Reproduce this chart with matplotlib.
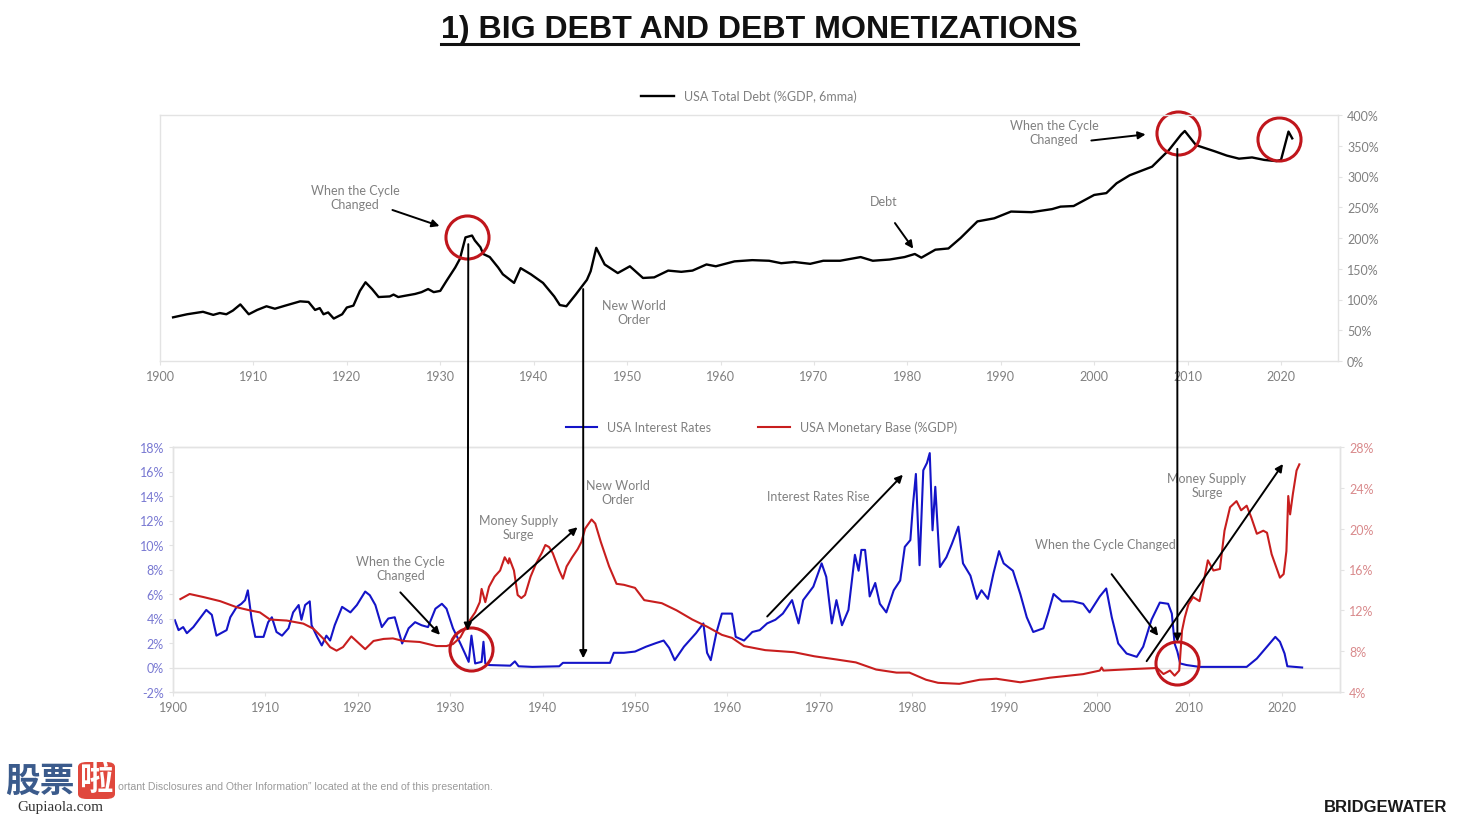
import matplotlib.pyplot as plt
from matplotlib.patches import ConnectionPatch, FancyBboxPatch
from matplotlib.lines import Line2D

plt.rcParams['font.family'] = ['Lato', 'DejaVu Sans']

# USA total debt (%GDP, 6mma)
debt_years = [1901.4, 1902.9, 1904.6, 1905.7, 1906.4, 1907.1, 1907.8, 1908.6, 1909.5, 1910.4,
              1911.4, 1912.3, 1913.4, 1915.0, 1915.9, 1916.6, 1917.1, 1917.5, 1918.0, 1918.6,
              1919.5, 1920.0, 1920.7, 1921.4, 1922.0, 1922.7, 1923.4, 1924.6, 1925.0, 1925.5,
              1926.2, 1927.3, 1928.0, 1928.7, 1929.3, 1930.0, 1930.7, 1931.6, 1932.1, 1932.7,
              1933.4, 1933.7, 1934.3, 1934.6, 1935.3, 1936.2, 1936.7, 1937.9, 1938.6, 1939.7,
              1941.0, 1942.2, 1942.8, 1943.5, 1944.5, 1945.7, 1946.1, 1946.7, 1947.6, 1949.0,
              1950.3, 1951.7, 1952.9, 1954.4, 1955.8, 1957.0, 1958.5, 1959.5, 1961.5, 1963.4,
              1965.2, 1966.5, 1967.9, 1969.6, 1971.0, 1972.8, 1975.0, 1976.3, 1978.1, 1979.7,
              1980.8, 1981.5, 1983.0, 1984.4, 1985.7, 1987.5, 1989.3, 1991.1, 1993.3, 1995.5,
              1996.4, 1997.8, 2000.0, 2001.3, 2002.4, 2003.8, 2006.2, 2008.0, 2009.3, 2009.7,
              2010.9, 2012.9, 2014.2, 2015.5, 2016.9, 2018.2, 2019.5, 2020.0, 2020.8, 2021.2]
debt_vals = [71, 76, 80, 75, 78, 76, 82, 92, 76, 83,
             89, 85, 90, 97, 96, 83, 86, 76, 79, 69,
             76, 87, 90, 114, 128, 117, 104, 105, 108, 104,
             106, 109, 112, 117, 112, 114, 131, 152, 166, 201,
             204, 196, 185, 174, 169, 152, 141, 127, 151, 141,
             127, 105, 91, 89, 108, 132, 146, 184, 157, 143,
             154, 135, 136, 147, 145, 147, 157, 154, 162, 164,
             163, 159, 161, 158, 163, 163, 169, 163, 165, 169,
             174, 168, 181, 183, 200, 227, 232, 243, 242, 247,
             251, 252, 270, 273, 289, 302, 316, 343, 368, 374,
             351, 341, 334, 329, 331, 327, 325, 327, 373, 362]

# USA interest rates (%), left axis
rate_years = [1900.2, 1900.6, 1901.1, 1901.5, 1902.2, 1902.9, 1903.6, 1904.2, 1904.7, 1905.8,
              1906.2, 1906.9, 1907.4, 1907.8, 1908.1, 1908.5, 1908.9, 1909.8, 1910.3, 1910.7,
              1911.2, 1911.8, 1912.5, 1913.0, 1913.6, 1913.9, 1914.3, 1914.8, 1915.0, 1915.6,
              1916.1, 1916.6, 1917.0, 1917.5, 1918.3, 1919.2, 1919.9, 1920.8, 1921.3, 1921.9,
              1922.6, 1923.3, 1924.0, 1924.8, 1925.5, 1926.2, 1926.9, 1927.6, 1928.4, 1929.1,
              1929.6, 1930.3, 1931.1, 1931.6, 1932.0, 1932.3, 1932.7, 1933.4, 1933.6, 1933.8,
              1934.2, 1936.5, 1937.0, 1937.4, 1938.9, 1941.8, 1942.2, 1947.3, 1947.7, 1948.8,
              1950.0, 1951.2, 1952.3, 1953.1, 1953.7, 1954.3, 1955.3, 1956.6, 1957.4, 1957.8,
              1958.2, 1958.8, 1959.4, 1960.5, 1960.9, 1961.8, 1962.7, 1963.5, 1964.3, 1965.2,
              1966.0, 1967.0, 1967.7, 1968.2, 1969.3, 1970.2, 1970.7, 1971.3, 1971.8, 1972.4,
              1973.1, 1973.8, 1974.2, 1974.5, 1974.9, 1975.2, 1975.4, 1976.0, 1976.5, 1977.2,
              1978.0, 1978.7, 1979.2, 1979.8, 1980.1, 1980.4, 1980.8, 1981.2, 1981.6, 1981.9,
              1982.2, 1982.5, 1983.0, 1983.7, 1984.3, 1985.0, 1985.5, 1986.3, 1987.0, 1987.5,
              1988.2, 1988.8, 1989.4, 1989.9, 1990.9, 1991.7, 1992.4, 1993.1, 1994.2, 1994.7,
              1995.3, 1996.2, 1997.4, 1998.5, 1999.2, 2000.3, 2001.0, 2001.6, 2002.3, 2003.2,
              2004.3, 2005.0, 2005.9, 2006.8, 2007.7, 2008.1, 2008.4, 2008.7, 2009.0, 2009.7,
              2011.1, 2016.2, 2017.3, 2018.4, 2019.3, 2019.8, 2020.3, 2020.6, 2022.2]
rate_vals = [3.86, 3.05, 3.3, 2.8, 3.3, 4.0, 4.7, 4.3, 2.6, 3.05,
             4.1, 4.95, 5.2, 5.5, 6.3, 4.0, 2.5, 2.5, 3.7, 4.1,
             2.9, 2.6, 3.2, 4.5, 5.1, 3.9, 5.1, 5.4, 3.45, 2.5,
             1.8, 2.6, 2.2, 3.45, 4.95, 4.5, 5.1, 6.2, 5.9, 5.1,
             3.3, 4.0, 4.1, 1.96, 3.2, 3.7, 3.45, 3.3, 4.8, 5.2,
             4.8, 3.2, 1.96, 1.14, 0.46, 2.6, 0.33, 0.46, 2.1, 0.33,
             0.2, 0.15, 0.5, 0.1, 0.05, 0.1, 0.38, 0.38, 1.2, 1.2,
             1.3, 1.7, 2.0, 2.2, 1.6, 0.6, 1.7, 2.8, 3.6, 1.2,
             0.6, 2.8, 4.4, 4.4, 2.5, 2.2, 2.9, 3.05, 3.6, 3.9,
             4.4, 5.5, 3.6, 5.5, 6.6, 8.5, 7.4, 3.6, 5.5, 3.45,
             4.7, 9.2, 7.9, 9.6, 9.6, 7.4, 5.8, 6.9, 5.2, 4.5,
             6.3, 7.1, 9.85, 10.4, 13.4, 15.8, 8.35, 16.1, 16.7, 17.5,
             11.2, 14.75, 8.2, 9.0, 10.1, 11.5, 8.5, 7.5, 5.6, 6.3,
             5.6, 7.7, 9.5, 8.5, 7.9, 6.0, 4.1, 2.9, 3.2, 4.4,
             6.0, 5.4, 5.4, 5.2, 4.5, 5.8, 6.45, 4.1, 1.96, 1.14,
             0.87, 1.7, 3.9, 5.3, 5.2, 4.4, 1.96, 1.3, 0.33, 0.2,
             0.05, 0.05, 0.73, 1.7, 2.5, 2.1, 1.14, 0.1, 0.0]

# USA monetary base (%GDP), right axis
base_years = [1900.8, 1901.8, 1903.3, 1905.1, 1906.9, 1908.3, 1909.4, 1910.5, 1912.3, 1914.1,
              1915.2, 1916.3, 1917.0, 1917.7, 1918.4, 1919.3, 1920.2, 1920.8, 1921.7, 1922.8,
              1923.8, 1924.9, 1926.7, 1928.5, 1929.6, 1930.3, 1931.1, 1931.6, 1932.1, 1932.7,
              1933.2, 1933.4, 1933.8, 1934.2, 1934.8, 1935.4, 1935.9, 1936.3, 1936.4, 1936.9,
              1937.3, 1937.7, 1938.1, 1938.7, 1939.3, 1939.9, 1940.3, 1940.7, 1941.1, 1941.8,
              1942.2, 1942.6, 1943.2, 1943.8, 1944.2, 1944.6, 1945.3, 1945.7, 1946.3, 1947.2,
              1948.0, 1948.8, 1950.0, 1951.0, 1952.9, 1954.5, 1956.2, 1957.8, 1959.4, 1960.5,
              1961.8, 1964.1, 1967.2, 1969.4, 1971.7, 1973.9, 1976.1, 1978.3, 1979.7, 1981.5,
              1982.8, 1985.1, 1987.3, 1989.1, 1991.7, 1994.9, 1998.5, 2000.3, 2000.5, 2000.7,
              2003.9, 2006.5, 2007.2, 2007.9, 2008.4, 2008.9, 2009.2, 2009.5, 2009.9, 2010.4,
              2011.1, 2011.5, 2012.0, 2012.6, 2013.3, 2013.8, 2014.4, 2015.1, 2015.6, 2016.2,
              2016.7, 2017.3, 2018.0, 2018.4, 2018.9, 2019.8, 2020.2, 2020.5, 2020.7, 2020.9,
              2021.2, 2021.6, 2021.9]
base_vals = [13.1, 13.6, 13.3, 12.9, 12.3, 12.0, 11.8, 11.1, 11.0, 10.7,
             10.2, 9.2, 8.4, 8.05, 8.4, 9.45, 8.7, 8.2, 9.0, 9.2,
             9.25, 9.0, 8.9, 8.5, 8.5, 8.7, 9.35, 10.2, 11.0, 11.8,
             12.8, 14.1, 12.8, 14.3, 15.3, 15.9, 17.2, 16.6, 17.1, 15.9,
             13.5, 13.2, 13.5, 15.3, 16.6, 17.6, 18.4, 18.2, 17.6, 15.9,
             15.1, 16.3, 17.2, 18.0, 18.7, 20.0, 20.9, 20.5, 18.7, 16.3,
             14.6, 14.5, 14.2, 13.0, 12.7, 12.0, 11.1, 10.4, 9.6, 9.3,
             8.5, 8.1, 7.9, 7.5, 7.2, 6.9, 6.2, 5.9, 5.9, 5.2,
             4.9, 4.8, 5.2, 5.3, 4.95, 5.4, 5.75, 6.1, 6.4, 6.1,
             6.25, 6.35, 5.76, 6.1, 5.6, 6.1, 10.0, 11.3, 12.6, 13.3,
             12.9, 14.6, 16.9, 15.9, 16.05, 19.8, 22.1, 22.7, 21.8, 22.25,
             21.1, 19.5, 19.8, 19.6, 17.5, 15.2, 15.55, 17.8, 23.2, 21.4,
             23.4, 25.7, 26.3]

decades = list(range(1900, 2021, 10))
debt_ticks = list(range(0, 401, 50))
rate_ticks = list(range(-2, 19, 2))
base_ticks = list(range(4, 29, 4))

GRID = '#e3e3e3'
TXT = '#808080'
CIRCLE = '#c0161c'


def style_axes(ax):
    for s in ax.spines.values():
        s.set_color(GRID)
        s.set_linewidth(1.0)
    ax.tick_params(colors=GRID, labelcolor=TXT, labelsize=9, length=3)


def note(ax, text, xy, xytext=None, start=None):
    if start is None:
        ax.text(xy[0], xy[1], text, ha='center', va='center', fontsize=9, color=TXT)
    else:
        ax.text(xytext[0], xytext[1], text, ha='center', va='center', fontsize=9, color=TXT)
        ax.annotate('', xy=xy, xytext=start,
                    arrowprops=dict(arrowstyle='-|>', color='black', lw=1.4, mutation_scale=11))


fig = plt.figure(figsize=(14.72, 8.2), dpi=100)

# ---- top chart: total debt
ax1 = fig.add_axes([160 / 1472, 1 - 362 / 820, 1178 / 1472, 246 / 820])
ax1.plot(debt_years, debt_vals, color='black', lw=1.7, label='USA Total Debt (%GDP, 6mma)')
ax1.set_xlim(1900, 2026.1)
ax1.set_ylim(0, 400)
ax1.set_xticks(decades)
ax1.yaxis.tick_right()
ax1.set_yticks(debt_ticks)
ax1.set_yticklabels([f'{v}%' for v in debt_ticks])
style_axes(ax1)
ax1.legend(loc='lower center', bbox_to_anchor=(0.5, 1.016), frameon=False, fontsize=9,
           handlelength=2.6, labelcolor=TXT, borderaxespad=0.3)

note(ax1, 'When the Cycle\nChanged', (1930.2, 218), (1920.9, 266), (1924.6, 247))
note(ax1, 'Debt', (1980.8, 179), (1977.5, 260), (1978.5, 228))
note(ax1, 'New World\nOrder', (1950.7, 80))
note(ax1, 'When the Cycle\nChanged', (2005.8, 369), (1995.7, 372), (1999.4, 358))
for cx, cy in [(1932.9, 201), (2009.0, 370), (2019.8, 361)]:
    ax1.plot([cx], [cy], marker='o', ms=31, mfc='none', mec=CIRCLE, mew=2.2, clip_on=False)

# ---- bottom chart: rates and monetary base
ax2 = fig.add_axes([173 / 1472, 1 - 693 / 820, 1167 / 1472, 245 / 820])
ax2r = ax2.twinx()
l1, = ax2.plot(rate_years, rate_vals, color='#1414c8', lw=1.5, label='USA Interest Rates')
l2, = ax2r.plot(base_years, base_vals, color='#c81e1e', lw=1.5, label='USA Monetary Base (%GDP)')
ax2.axhline(0, color=GRID, lw=1.0, zorder=0)
ax2.set_xlim(1900, 2026.3)
ax2.set_ylim(-2, 18)
ax2.set_yticks(rate_ticks)
ax2.set_yticklabels([f'{v}%' for v in rate_ticks])
ax2r.set_ylim(4, 28)
ax2r.set_yticks(base_ticks)
ax2r.set_yticklabels([f'{v}%' for v in base_ticks])
ax2.set_xticks(decades)
style_axes(ax2)
style_axes(ax2r)
ax2.tick_params(axis='y', labelcolor='#7878d2')
ax2r.tick_params(axis='y', labelcolor='#d98a8c')
ax2r.legend(handles=[l1, l2], loc='lower center', bbox_to_anchor=(0.504, 1.02), ncol=2,
            frameon=False, fontsize=9, handlelength=2.5, columnspacing=3.8,
            labelcolor=TXT, borderaxespad=0.3)


def to_r(p):
    # left-axis (rate) coordinates -> right-axis coordinates, so notes sit above both lines
    return tuple(ax2r.transData.inverted().transform(ax2.transData.transform(p)))


note(ax2r, 'When the Cycle\nChanged', to_r((1929.1, 2.5)), to_r((1924.6, 8.1)), to_r((1924.4, 6.3)))
note(ax2r, 'Money Supply\nSurge', to_r((1944.0, 11.6)), to_r((1937.4, 11.5)), to_r((1931.6, 3.35)))
note(ax2r, 'New World\nOrder', to_r((1948.1, 14.3)))
note(ax2r, 'Interest Rates Rise', to_r((1979.2, 15.9)), to_r((1969.8, 14.0)), to_r((1964.1, 4.0)))
note(ax2r, 'When the Cycle Changed', to_r((2006.8, 2.4)), to_r((2000.9, 10.1)), to_r((2001.4, 7.8)))
note(ax2r, 'Money Supply\nSurge', to_r((2020.3, 16.8)), to_r((2011.9, 14.9)), to_r((2005.2, 0.33)))
for cx, cy in [(1932.3, 1.55), (2008.7, 0.33)]:
    ax2r.plot(*zip(to_r((cx, cy))), marker='o', ms=31, mfc='none', mec=CIRCLE, mew=2.2,
              clip_on=False, zorder=5)

# long vertical arrows linking the two charts
for top_pt, bot_pt in [((1933.0, 190), (1931.9, 3.0)),
                       ((1945.3, 117), (1944.4, 0.75)),
                       ((2008.9, 345), (2008.7, 2.1))]:
    con = ConnectionPatch(xyA=top_pt, coordsA=ax1.transData, xyB=bot_pt, coordsB=ax2.transData,
                          arrowstyle='-|>', color='black', lw=1.4, mutation_scale=11)
    fig.add_artist(con)

# ---- page furniture
fig.text(759.5 / 1472, 1 - 30 / 820, '1) BIG DEBT AND DEBT MONETIZATIONS', ha='center', va='center',
         fontsize=23.1, fontweight='bold', family='Liberation Sans', color='#111111')
fig.add_artist(Line2D([441 / 1472, 1078 / 1472], [1 - 45 / 820] * 2, color='#111111', lw=2.2))

fig.text(118 / 1472, 1 - 787 / 820,
         'ortant Disclosures and Other Information\u201d located at the end of this presentation.',
         ha='left', va='center', fontsize=7.6, color='#9a9a9a', family='Liberation Sans')
fig.text(1447 / 1472, 1 - 808 / 820, 'BRIDGEWATER', ha='right', va='center', fontsize=12,
         fontweight='bold', family='Liberation Sans', color='#1a1a1a')

# site watermark
fig.add_artist(FancyBboxPatch((78 / 1472, 1 - 800 / 820), 37 / 1472, 37 / 820,
                              boxstyle='round,pad=0,rounding_size=0.006', fc='#e0483d', ec='none'))
fig.text(40 / 1472, 1 - 781 / 820, '股票', ha='center', va='center', fontsize=25, fontweight='bold',
         family=['Noto Sans CJK SC', 'DejaVu Sans'], color='#3b5b8c')
fig.text(96.5 / 1472, 1 - 781 / 820, '啦', ha='center', va='center', fontsize=24, fontweight='bold',
         family=['Noto Sans CJK SC', 'DejaVu Sans'], color='white')
fig.text(60 / 1472, 1 - 808 / 820, 'Gupiaola.com', ha='center', va='center', fontsize=11,
         family='Liberation Serif', color='#333333')

fig.savefig('out.png', dpi=100, facecolor='white')
